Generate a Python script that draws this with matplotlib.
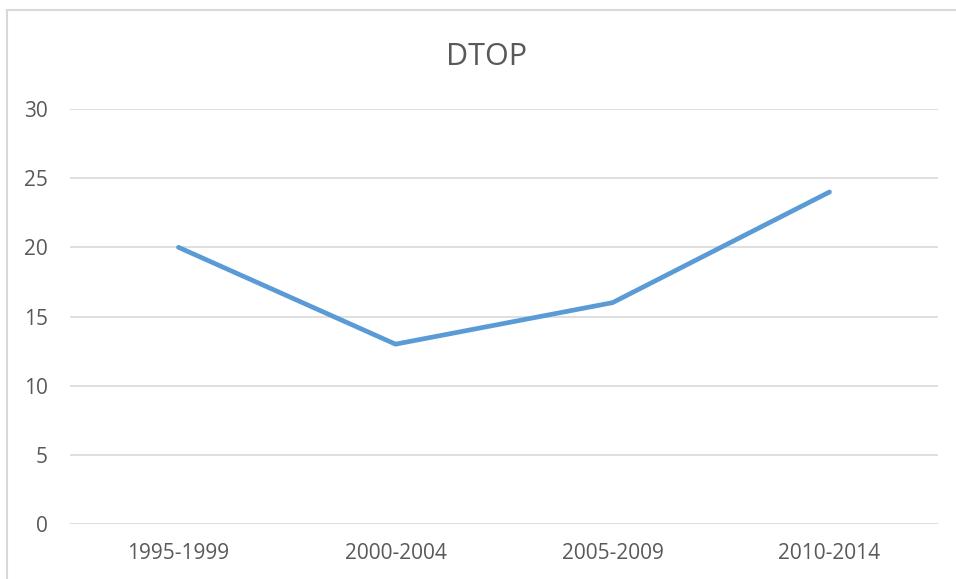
import matplotlib

matplotlib.use('Agg')
import matplotlib.pyplot as plt
import matplotlib.patches as mpatches

periods = ["1995-1999", "2000-2004", "2005-2009", "2010-2014"]
dtop = [20, 13, 16, 24]
yticks = [0, 5, 10, 15, 20, 25, 30]

W, H = 956, 579
plt.rcParams['font.family'] = ['Open Sans', 'DejaVu Sans']

fig = plt.figure(figsize=(W / 100, H / 100), dpi=100)

# chart border (clipped on right and bottom like the screenshot)
fig.patches.append(mpatches.Rectangle((7 / W, -0.1), 1.2, 1 - 10 / H + 0.1,
                                      transform=fig.transFigure, fill=False,
                                      edgecolor='#d9d9d9', linewidth=1.5))

ax = fig.add_axes([70 / W, 1 - 524 / H, (938 - 70) / W, (524 - 109) / H])
x = range(len(periods))
ax.plot(x, dtop, color='#5b9bd5', linewidth=3.4, solid_capstyle='round')

ax.set_xlim(-0.5, len(periods) - 0.5)
ax.set_ylim(0, 30)
ax.set_yticks(yticks)
ax.set_xticks(list(x))
ax.set_xticklabels(periods)
ax.grid(axis='y', color='#d9d9d9', linewidth=1.2)
ax.set_axisbelow(True)
for s in ax.spines.values():
    s.set_visible(False)
ax.tick_params(length=0, colors='#595959', labelsize=15)
ax.tick_params(axis='y', pad=16)
ax.tick_params(axis='x', pad=14)

fig.text(487 / W, 1 - 57 / H, "DTOP", ha='center', va='center',
         fontsize=22, color='#595959')

fig.savefig('out.png', dpi=100)
